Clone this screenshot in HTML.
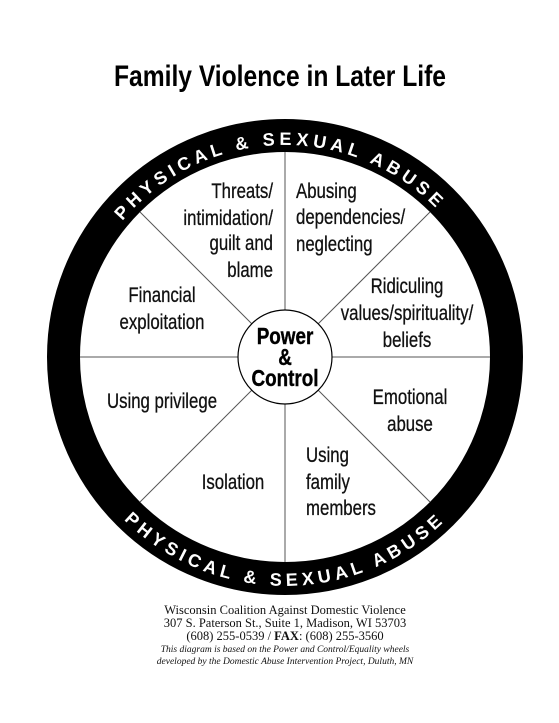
<!DOCTYPE html>
<html><head><meta charset="utf-8"><style>
html,body{margin:0;padding:0;background:#fff;}
svg{display:block;}
.n{font-family:"Liberation Sans Narrow","Liberation Sans",sans-serif;}
</style></head><body>
<svg width="559" height="723" viewBox="0 0 559 723" xmlns="http://www.w3.org/2000/svg">
<text x="280" y="86" text-anchor="middle" class="n" font-weight="bold" font-size="30" textLength="332" lengthAdjust="spacingAndGlyphs">Family Violence in Later Life</text>
<circle cx="285" cy="357" r="221.5" fill="#fff" stroke="#000" stroke-width="33"/>
<g stroke="#555" stroke-width="1">
<line x1="285" y1="152" x2="285" y2="310"/><line x1="285" y1="404" x2="285" y2="562"/>
<line x1="80" y1="357" x2="238" y2="357"/><line x1="332" y1="357" x2="490" y2="357"/>
<line x1="140" y1="212" x2="252" y2="324"/><line x1="318" y1="390" x2="430" y2="502"/>
<line x1="430" y1="212" x2="318" y2="324"/><line x1="252" y1="390" x2="140" y2="502"/>
</g>
<circle cx="285" cy="357" r="47" fill="#fff" stroke="#000" stroke-width="1.2"/>
<defs>
<path id="top" d="M 73 357 A 212 212 0 0 1 497 357"/>
<path id="bot" d="M 56 357 A 229 229 0 0 0 514 357"/>
</defs>
<g font-family="Liberation Sans" font-weight="bold" font-size="18" fill="#fff" letter-spacing="4.5">
<text><textPath href="#top" startOffset="49%" text-anchor="middle">PHYSICAL &amp; SEXUAL ABUSE</textPath></text>
<text><textPath href="#bot" startOffset="50%" text-anchor="middle">PHYSICAL &amp; SEXUAL ABUSE</textPath></text>
</g>
<g class="n" font-size="21" fill="#111" stroke="#111" stroke-width="0.3">
<g text-anchor="end" transform="translate(273 0) scale(0.8 1)"><text x="0" y="198">Threats/</text><text x="0" y="225">intimidation/</text><text x="0" y="250">guilt and</text><text x="0" y="277">blame</text></g>
<g transform="translate(296 0) scale(0.8 1)"><text x="0" y="198">Abusing</text><text x="0" y="224">dependencies/</text><text x="0" y="251">neglecting</text></g>
<g transform="translate(306 0) scale(0.8 1)"><text x="0" y="462">Using</text><text x="0" y="489">family</text><text x="0" y="515">members</text></g>
<g text-anchor="middle">
<g transform="translate(162 0) scale(0.8 1)"><text x="0" y="302">Financial</text><text x="0" y="329">exploitation</text><text x="0" y="408">Using privilege</text></g>
<g transform="translate(407 0) scale(0.8 1)"><text x="0" y="293">Ridiculing</text><text x="0" y="320">values/spirituality/</text><text x="0" y="347">beliefs</text></g>
<g transform="translate(410 0) scale(0.8 1)"><text x="0" y="404">Emotional</text><text x="0" y="431">abuse</text></g>
<g transform="translate(233 0) scale(0.8 1)"><text x="0" y="489">Isolation</text></g>
</g>
<g text-anchor="middle" font-weight="bold" font-size="23" fill="#000" stroke="#000" stroke-width="0.4" transform="translate(285 0) scale(0.82 1)">
<text x="0" y="344">Power</text><text x="0" y="365">&amp;</text><text x="0" y="386">Control</text>
</g>
</g>
<g font-family="Liberation Serif" text-anchor="middle" fill="#111">
<text x="285" y="614" font-size="12.5">Wisconsin Coalition Against Domestic Violence</text>
<text x="285" y="627" font-size="12.5">307 S. Paterson St., Suite 1, Madison, WI 53703</text>
<text x="285" y="640" font-size="12.5">(608) 255-0539 / <tspan font-weight="bold">FAX</tspan>: (608) 255-3560</text>
<text x="285" y="652" font-size="9.5" font-style="italic">This diagram is based on the Power and Control/Equality wheels</text>
<text x="285" y="664" font-size="9.5" font-style="italic">developed by the Domestic Abuse Intervention Project, Duluth, MN</text>
</g>
</svg>
</body></html>
